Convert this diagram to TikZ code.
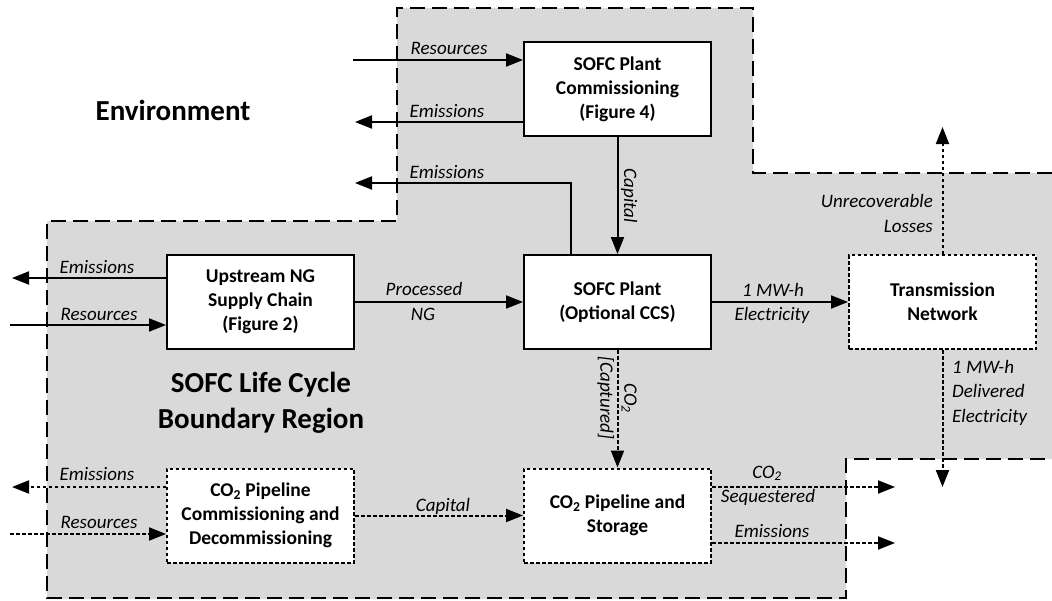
\documentclass[tikz,border=0pt]{standalone}
\usepackage{fontspec}
\setmainfont{Carlito}
\usetikzlibrary{arrows.meta,calc}
\definecolor{regiongray}{RGB}{217,217,217}
\begin{document}
\begin{tikzpicture}[x=1pt,y=-1pt,
  box/.style={draw,line width=2pt,fill=white,minimum width=187pt,minimum height=94pt,align=center,font=\bfseries\fontsize{19.5}{24}\selectfont,inner sep=0pt},
  dbox/.style={box,dash pattern=on 3.5pt off 2.5pt},
  flow/.style={line width=2pt,-{Triangle[length=17pt,width=13pt]}},
  dflow/.style={flow,dash pattern=on 3.5pt off 2.5pt},
  lab/.style={font=\itshape\fontsize{19}{24}\selectfont,inner sep=0pt,anchor=base},
  big/.style={font=\bfseries\fontsize{29}{36}\selectfont,align=center,inner sep=0pt},
  boundary/.style={line width=2.5pt,dash pattern=on 15pt off 7pt}]
\useasboundingbox (0,0) rectangle (1052,600);
% boundary region
\fill[regiongray] (47,599) -- (47,221) -- (397,221) -- (397,8) -- (753,8) -- (753,173) -- (1052,173) -- (1052,459) -- (846,459) -- (846,599) -- cycle;
\draw[boundary] (1052,173) -- (753,173) -- (753,8) -- (397,8) -- (397,221) -- (47,221) -- (47,598) -- (846,598) -- (846,459) -- (1052,459);
% region texts
\node[big] (env) at (173,110) {Environment};
\node[big] (reg) at (261,403) {SOFC Life Cycle\\Boundary Region};
% boxes
\node[box] (comm) at (617.5,89) {SOFC Plant\\Commissioning\\(Figure 4)};
\node[box] (up) at (260.5,302) {Upstream NG\\Supply Chain\\(Figure 2)};
\node[box] (sofc) at (617.5,302) {SOFC Plant\\(Optional CCS)};
\node[dbox] (trans) at (942.5,302) {Transmission\\Network};
\node[dbox] (pipecomm) at (260.5,515.5) {CO\textsubscript{2} Pipeline\\Commissioning and\\Decommissioning};
\node[dbox] (store) at (617.5,515.5) {CO\textsubscript{2} Pipeline and\\Storage};
% free ends
\coordinate (resA) at (353,60);
\coordinate (emA) at (355,122);
\coordinate (emB) at (355,183);
\coordinate (emC) at (12,278);
\coordinate (resC) at (10,325);
\coordinate (lossE) at (942.5,127);
\coordinate (delE) at (942.5,487);
\coordinate (emD) at (12,487);
\coordinate (resD) at (10,534);
\coordinate (seqE) at (895,487);
\coordinate (emE) at (895,543);
% solid flows
\draw[flow] (resA) -- (resA -| comm.west);
\draw[flow] (emA -| comm.west) -- (emA);
\draw[flow] ($(sofc.north)+(-46.5,0)$) |- (emB);
\draw[flow] (comm.south) -- (sofc.north);
\draw[flow] (emC -| up.west) -- (emC);
\draw[flow] (resC) -- (resC -| up.west);
\draw[flow] (up.east) -- (sofc.west);
\draw[flow] (sofc.east) -- (trans.west);
% dotted flows
\draw[dflow] (trans.north) -- (lossE);
\draw[dflow] (trans.south) -- (delE);
\draw[dflow] (sofc.south) -- (store.north);
\draw[dflow] (emD -| pipecomm.west) -- (emD);
\draw[dflow] (resD) -- (resD -| pipecomm.west);
\draw[dflow] (pipecomm.east) -- (store.west);
\draw[dflow] (seqE -| store.east) -- (seqE);
\draw[dflow] (emE -| store.east) -- (emE);
% labels
\node[lab] (l1) at (449,54) {Resources};
\node[lab] (l2) at (447,117) {Emissions};
\node[lab] (l3) at (447,178) {Emissions};
\node[lab,rotate=-90,anchor=base] (l4) at (624,196) {Capital};
\node[lab] (l5) at (97,273) {Emissions};
\node[lab] (l6) at (99,320) {Resources};
\node[lab] (l7) at (424,295) {Processed};
\node[lab] (l8) at (423,320) {NG};
\node[lab] (l9) at (773,296) {1 MW-h};
\node[lab] (l10) at (772,320) {Electricity};
\node[lab,anchor=base east] (l11) at (933,207) {Unrecoverable};
\node[lab,anchor=base east] (l12) at (933,232) {Losses};
\node[lab,anchor=base west] (l13) at (952,373) {1 MW-h};
\node[lab,anchor=base west] (l14) at (952,397) {Delivered};
\node[lab,anchor=base west] (l15) at (952,422) {Electricity};
\node[lab,rotate=-90,anchor=center,align=center] (l16) at (617,398) {CO\textsubscript{2}\\{}[Captured]};
\node[lab] (l17) at (97,480) {Emissions};
\node[lab] (l18) at (99,528) {Resources};
\node[lab] (l19) at (443,511) {Capital};
\node[lab] (l20) at (767,478) {CO\textsubscript{2}};
\node[lab] (l21) at (768,502) {Sequestered};
\node[lab] (l22) at (772,537) {Emissions};
\end{tikzpicture}
\end{document}
